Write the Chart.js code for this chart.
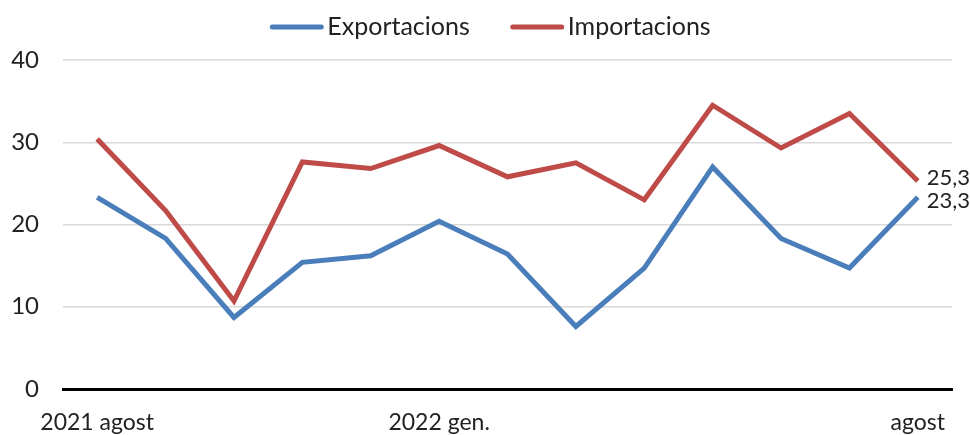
<!DOCTYPE html>
<html>
<head>
<meta charset="utf-8">
<script src="https://cdn.jsdelivr.net/npm/chart.js@4/dist/chart.umd.min.js"></script>
<style>
  html, body { margin: 0; padding: 0; background: #fff; }
  #wrap { width: 970px; height: 435px; }
</style>
</head>
<body>
<div id="wrap"><canvas id="chart"></canvas></div>
<script>
const months = ['2021 agost', 'set.', 'oct.', 'nov.', 'des.', '2022 gen.', 'febr.', 'març', 'abr.', 'maig', 'juny', 'jul.', 'agost'];
const shownLabels = ['2021 agost', '2022 gen.', 'agost'];
const exportacions = [23.3, 18.3, 8.7, 15.4, 16.2, 20.4, 16.4, 7.6, 14.7, 27.0, 18.3, 14.7, 23.3];
const importacions = [30.4, 21.7, 10.7, 27.6, 26.8, 29.6, 25.8, 27.5, 23.0, 34.5, 29.3, 33.5, 25.3];
const yTicks = [0, 10, 20, 30, 40];

const FONT = "Lato, 'Open Sans', sans-serif";
const BLUE = '#4a7ebb';
const RED = '#be4b48';

// legend drawn by hand so the line sits right against the text
const topLegend = {
  id: 'topLegend',
  afterDraw(chart) {
    const ctx = chart.ctx;
    const y = 27;
    const lineW = 55, gap = 3, itemGap = 40;
    ctx.save();
    ctx.font = '25px ' + FONT;
    ctx.textBaseline = 'middle';
    const items = chart.data.datasets.map(ds => ({ label: ds.label, color: ds.borderColor, w: ctx.measureText(ds.label).width }));
    const total = items.reduce((s, it) => s + lineW + gap + it.w, 0) + itemGap * (items.length - 1);
    let x = 490 - total / 2;
    items.forEach(it => {
      ctx.strokeStyle = it.color;
      ctx.lineWidth = 5;
      ctx.lineCap = 'round';
      ctx.beginPath();
      ctx.moveTo(x + 3, y);
      ctx.lineTo(x + lineW - 3, y);
      ctx.stroke();
      ctx.fillStyle = '#222';
      ctx.fillText(it.label, x + lineW + gap, y);
      x += lineW + gap + it.w + itemGap;
    });
    ctx.restore();
  }
};

// label at the last point of each line
const endLabels = {
  id: 'endLabels',
  afterDatasetsDraw(chart) {
    const ctx = chart.ctx;
    ctx.save();
    ctx.font = '22px ' + FONT;
    ctx.fillStyle = '#222';
    ctx.textAlign = 'left';
    ctx.textBaseline = 'middle';
    chart.data.datasets.forEach((ds, i) => {
      const meta = chart.getDatasetMeta(i);
      const pt = meta.data[meta.data.length - 1];
      const v = ds.data[ds.data.length - 1];
      ctx.fillText(v.toFixed(1).replace('.', ','), pt.x + 9, pt.y + (i === 0 ? 4 : -3));
    });
    ctx.restore();
  }
};

new Chart(document.getElementById('chart'), {
  type: 'line',
  data: {
    labels: months,
    datasets: [
      { label: 'Exportacions', data: exportacions, borderColor: BLUE, backgroundColor: BLUE, borderWidth: 5, pointRadius: 0, tension: 0 },
      { label: 'Importacions', data: importacions, borderColor: RED, backgroundColor: RED, borderWidth: 5, pointRadius: 0, tension: 0 }
    ]
  },
  options: {
    responsive: true,
    maintainAspectRatio: false,
    animation: false,
    layout: { padding: { top: 60, right: 18, left: 0, bottom: 0 } },
    plugins: {
      tooltip: { enabled: false },
      legend: { display: false }
    },
    scales: {
      x: {
        offset: true,
        grid: { display: false, drawTicks: false },
        border: { display: true, color: '#000', width: 3 },
        ticks: {
          autoSkip: false,
          maxRotation: 0,
          padding: 20,
          color: '#222',
          font: { family: FONT, size: 23 },
          callback: function (v, i) {
            const l = months[i];
            return shownLabels.includes(l) ? l : '';
          }
        },
        afterFit: s => { s.height = 46; }
      },
      y: {
        min: 0,
        max: 40,
        afterBuildTicks: s => { s.ticks = yTicks.map(v => ({ value: v })); },
        grid: { color: '#d9d9d9', lineWidth: 1.5, drawTicks: false },
        border: { display: false },
        ticks: { color: '#222', padding: 24, font: { family: FONT, size: 24 } },
        afterFit: s => { s.width = 63; }
      }
    }
  },
  plugins: [topLegend, endLabels]
});
</script>
</body>
</html>
